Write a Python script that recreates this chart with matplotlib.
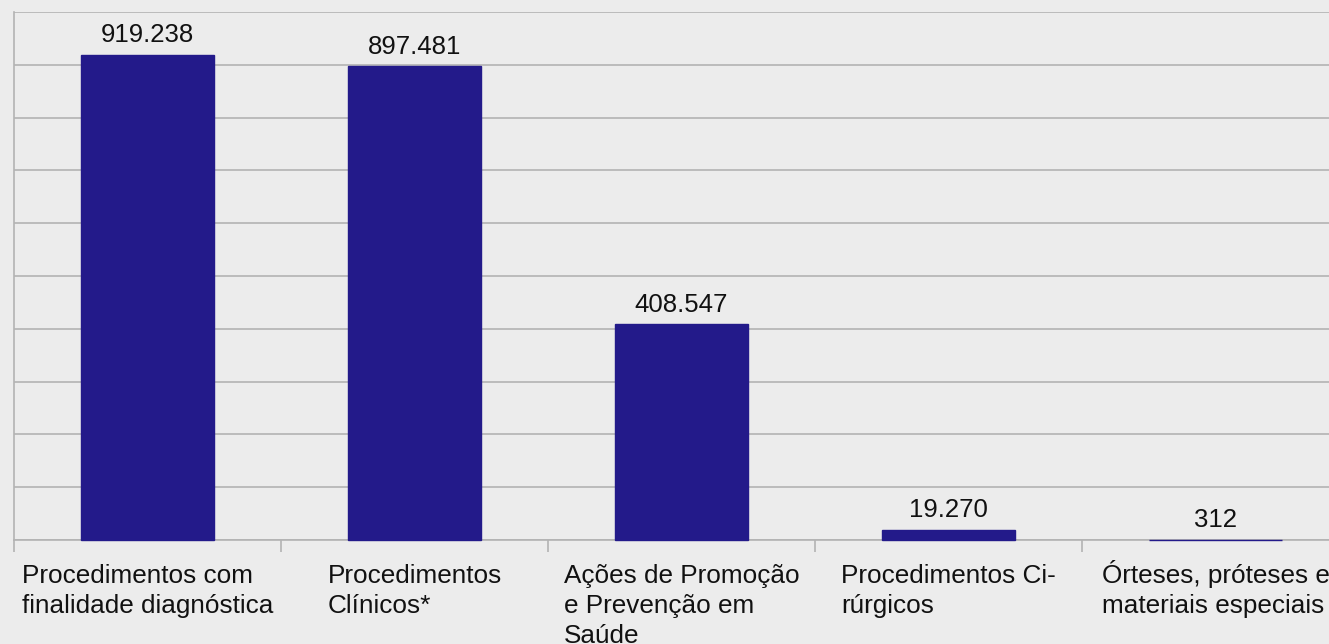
import matplotlib
matplotlib.use("Agg")
import matplotlib.pyplot as plt
from matplotlib.ticker import FixedLocator, MultipleLocator
from matplotlib.transforms import offset_copy

plt.rcParams['font.family'] = ['Liberation Sans', 'DejaVu Sans']

categories = [
    "Procedimentos com\nfinalidade diagnóstica",
    "Procedimentos\nClínicos*",
    "Ações de Promoção\ne Prevenção em\nSaúde",
    "Procedimentos Ci-\nrúrgicos",
    "Órteses, próteses e\nmateriais especiais",
]
values = [919238, 897481, 408547, 19270, 312]

BG = '#ececec'
GRID = '#b3b3b3'
BAR = '#231a8a'
TXT = '#111111'
FS = 18.8

W, H = 1329, 644
fig = plt.figure(figsize=(W / 100, H / 100), dpi=100, facecolor=BG)
left = 14 / W
bottom = (H - 540) / H
top = (H - 12) / H
width = 1335 / W
ax = fig.add_axes([left, bottom, width, top - bottom], facecolor=BG)

x = list(range(len(categories)))
ax.bar(x, values, width=0.495, color=BAR, edgecolor=BAR, linewidth=1.0,
       zorder=4, clip_on=False)

ax.set_xlim(-0.5, len(categories) - 0.5)
ax.set_ylim(0, 1_000_000)
ax.yaxis.set_major_locator(MultipleLocator(100_000))
ax.grid(axis='y', color=GRID, linewidth=1.2, zorder=0)
ax.tick_params(axis='y', length=0, labelleft=False)

ax.set_xticks(x)
ax.set_xticklabels([])
ax.tick_params(axis='x', which='major', length=0)
ax.xaxis.set_minor_locator(FixedLocator([i - 0.5 for i in range(len(categories) + 1)]))
ax.tick_params(axis='x', which='minor', length=8.6, width=1.2, color=GRID, direction='out')

for s in ['top', 'right']:
    ax.spines[s].set_visible(False)
for s in ['left', 'bottom']:
    ax.spines[s].set_color(GRID)
    ax.spines[s].set_linewidth(1.2)
    ax.spines[s].set_zorder(1)

# category labels: first-line baseline ~43px below the axis, 30px line step
for xi, lab in zip(x, categories):
    n = lab.count("\n")
    dy_px = 42.7 + n * 30.0
    tr = offset_copy(ax.transData, fig=fig, x=0, y=-dy_px * 0.72, units='points')
    ax.text(xi, 0, lab, ha='center', va='baseline', multialignment='left',
            fontsize=FS, color=TXT, linespacing=1.30, transform=tr,
            clip_on=False)

def fmt(v):
    return f"{v:,}".replace(",", ".")

trans = offset_copy(ax.transData, fig=fig, x=0, y=9, units='points')
for xi, v in zip(x, values):
    ax.text(xi, v, fmt(v), ha='center', va='baseline', fontsize=18.5,
            color=TXT, transform=trans)

fig.savefig("out.png", dpi=100, facecolor=BG)
